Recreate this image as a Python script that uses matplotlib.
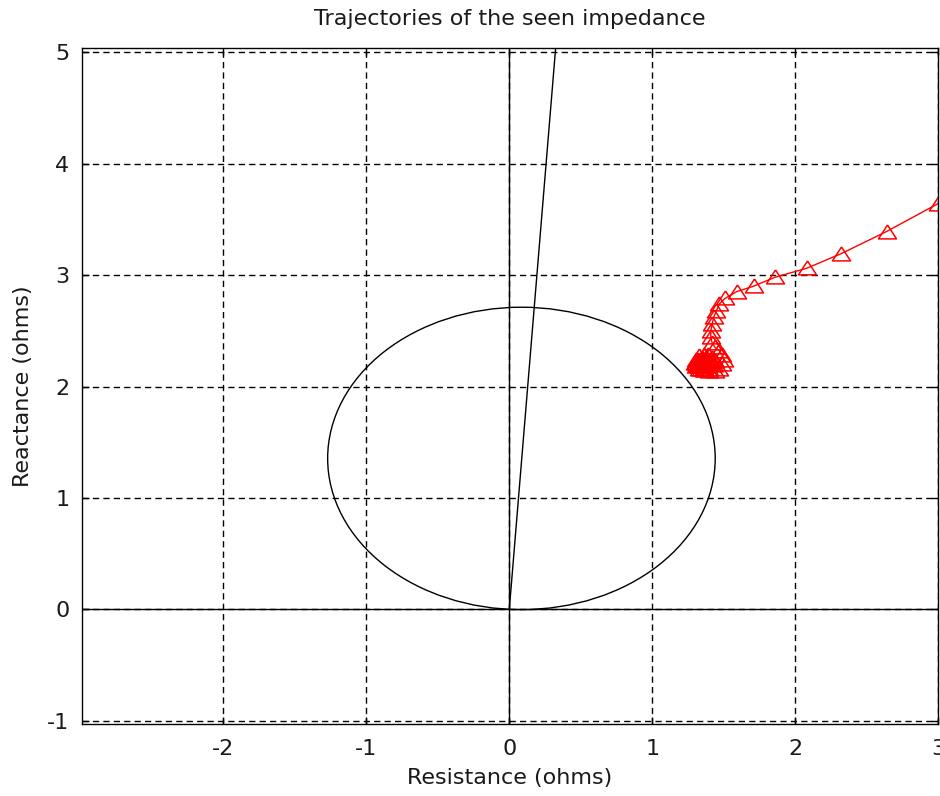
import matplotlib
matplotlib.use("Agg")
import matplotlib.pyplot as plt
from matplotlib.patches import Circle

# ---- data ----
title = "Trajectories of the seen impedance"
xlabel = "Resistance (ohms)"
ylabel = "Reactance (ohms)"
xticks = [-2, -1, 0, 1, 2, 3]
yticks = [-1, 0, 1, 2, 3, 4, 5]

# mho characteristic circle
mho_center = (0.085, 1.355)
mho_radius = 1.356
# line impedance angle line (from origin)
line_x = [0.0, 0.335]
line_y = [0.0, 5.2]

# seen impedance trajectory
traj_r = [3.45, 3.00, 2.64, 2.32, 2.08, 1.86, 1.71, 1.59, 1.51, 1.47,
          1.45, 1.43, 1.42, 1.41, 1.41, 1.42, 1.44, 1.47, 1.49, 1.50,
          1.49, 1.47, 1.44, 1.40, 1.36, 1.33, 1.31, 1.30, 1.31, 1.33,
          1.36, 1.39, 1.42, 1.44, 1.43, 1.40, 1.37, 1.34, 1.32, 1.31,
          1.32, 1.35, 1.38, 1.40, 1.41, 1.39, 1.36, 1.33, 1.32, 1.33,
          1.35, 1.37, 1.39, 1.38, 1.36, 1.34, 1.33, 1.34, 1.36, 1.37,
          1.36, 1.35, 1.35, 1.36]
traj_x = [3.95, 3.64, 3.39, 3.19, 3.06, 2.98, 2.90, 2.85, 2.79, 2.74,
          2.68, 2.62, 2.56, 2.50, 2.44, 2.39, 2.35, 2.32, 2.28, 2.24,
          2.20, 2.16, 2.14, 2.14, 2.15, 2.16, 2.18, 2.21, 2.24, 2.27,
          2.28, 2.28, 2.26, 2.23, 2.19, 2.16, 2.15, 2.16, 2.18, 2.21,
          2.24, 2.26, 2.26, 2.24, 2.21, 2.18, 2.17, 2.18, 2.20, 2.23,
          2.24, 2.24, 2.22, 2.19, 2.18, 2.19, 2.21, 2.23, 2.23, 2.21,
          2.20, 2.20, 2.21, 2.21]

plt.rcParams['font.family'] = ['DejaVu Sans']
plt.rcParams['axes.unicode_minus'] = False
txt = '#1a1a1a'

fig = plt.figure(figsize=(9.4, 7.96), dpi=100)
ax = fig.add_axes([82/940, 72/796, 856/940, 676/796])

ax.set_xlim(-2.99, 3.0)
ax.set_ylim(-1.027, 5.036)

# grid
ax.set_xticks(xticks)
ax.set_yticks(yticks)
ax.grid(True, color='black', linestyle=(0, (4.5, 3)), linewidth=1.0)
ax.set_axisbelow(True)

# axes lines through origin
ax.axhline(0, color='black', linewidth=1.0)
ax.axvline(0, color='black', linewidth=1.0)

# mho circle
ax.add_patch(Circle(mho_center, mho_radius, fill=False, edgecolor='black',
                    linewidth=1.0))
# impedance angle line
ax.plot(line_x, line_y, color='black', linewidth=1.0)

# trajectory
tri = [(0, 1.0), (-1.2, -0.85), (1.2, -0.85), (0, 1.0)]
ax.plot(traj_r, traj_x, color='red', linewidth=1.0, marker=tri,
        markersize=13, markerfacecolor='none', markeredgecolor='red',
        markeredgewidth=1.1, clip_on=True)

for s in ax.spines.values():
    s.set_color('black')
    s.set_linewidth(1.0)
ax.tick_params(direction='in', length=5, width=1.0, top=True, right=True,
               labelsize=16, labelcolor=txt, color='black', pad=9)
ax.tick_params(axis='x', pad=11)

ax.set_title(title, fontsize=16, pad=16.5, color=txt)
ax.set_xlabel(xlabel, fontsize=16, labelpad=6.5, color=txt)
ax.set_ylabel(ylabel, fontsize=16, labelpad=10.5, color=txt)

fig.savefig("out.png", dpi=100)
